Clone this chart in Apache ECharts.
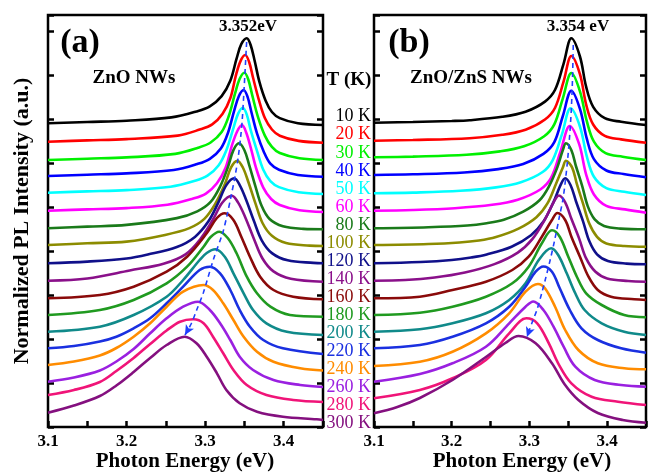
<!DOCTYPE html>
<html>
<head>
<meta charset="utf-8">
<script src="https://cdn.jsdelivr.net/npm/echarts@6/dist/echarts.min.js"></script>
<style>
html,body{margin:0;padding:0;background:#fff;}
#main{width:649px;height:473px;}
</style>
</head>
<body>
<div id="main"></div>
<script>
// ---------- data ----------
const temps = ['10 K','20 K','30 K','40 K','50 K','60 K','80 K','100 K','120 K','140 K','160 K','180 K','200 K','220 K','240 K','260 K','280 K','300 K'];

// Panel (a): ZnO NWs  -- [photon energy (eV), normalized intensity + offset (a.u.)]
const spectraA = [
 [[3.10,303.7],[3.15,305],[3.20,306.3],[3.257,309.6],[3.289,315.6],[3.306,320.7],[3.321,330.9],[3.332,346.2],[3.340,368.3],[3.346,382.8],[3.353,388.7],[3.358,381.8],[3.363,366.2],[3.369,345.4],[3.377,326.3],[3.385,315],[3.395,308.9],[3.418,303.7],[3.45,302]],
 [[3.10,285.3],[3.15,286.6],[3.20,287.9],[3.265,291.4],[3.293,297.4],[3.309,302.6],[3.322,313],[3.332,328.7],[3.339,351.2],[3.345,365.9],[3.351,372],[3.356,365],[3.361,349.2],[3.368,328.2],[3.376,308.9],[3.385,297.5],[3.395,291.3],[3.419,286.1],[3.45,284.3]],
 [[3.10,267],[3.15,268.3],[3.20,269.6],[3.262,273.1],[3.291,279.2],[3.307,284.5],[3.321,294.9],[3.330,310.7],[3.338,333.3],[3.344,348.2],[3.350,354.3],[3.355,347.3],[3.360,331.6],[3.367,310.7],[3.376,291.4],[3.385,280.1],[3.395,274],[3.420,268.7],[3.45,267]],
 [[3.10,251],[3.15,252.3],[3.20,253.6],[3.260,257],[3.290,263],[3.306,268.2],[3.320,278.5],[3.329,294],[3.337,316.4],[3.343,331],[3.349,337],[3.354,330.1],[3.359,314.5],[3.366,293.7],[3.375,274.6],[3.383,263.3],[3.394,257.2],[3.418,252],[3.45,250.3]],
 [[3.10,234.3],[3.15,235.6],[3.20,236.9],[3.256,240.3],[3.287,246.2],[3.303,251.3],[3.317,261.5],[3.327,276.8],[3.336,298.9],[3.342,313.4],[3.348,319.3],[3.353,312.4],[3.358,296.9],[3.366,276.2],[3.374,257.2],[3.383,245.9],[3.394,239.9],[3.419,234.7],[3.45,233]],
 [[3.10,216.3],[3.15,217.6],[3.20,218.9],[3.252,222.3],[3.284,228.3],[3.301,233.4],[3.315,243.7],[3.326,259.2],[3.334,281.4],[3.341,296],[3.347,302],[3.352,295],[3.358,279.4],[3.365,258.5],[3.374,239.4],[3.384,228],[3.395,222],[3.420,216.7],[3.45,215]],
 [[3.10,198.7],[3.15,200.4],[3.20,202.1],[3.264,208.9],[3.290,215.7],[3.307,225.1],[3.319,240.4],[3.329,259.9],[3.336,276.9],[3.343,283.7],[3.350,276.8],[3.356,262.2],[3.364,240.7],[3.372,220.9],[3.382,208],[3.399,200.7],[3.425,198.1],[3.45,197.7]],
 [[3.10,182],[3.15,183.7],[3.20,185.4],[3.249,192.1],[3.280,198.9],[3.299,208.1],[3.313,223.3],[3.325,242.7],[3.333,259.6],[3.341,266.3],[3.348,259.5],[3.355,245],[3.364,223.7],[3.373,204],[3.385,191.2],[3.403,184],[3.433,181.4],[3.45,181]],
 [[3.10,163.7],[3.15,165.4],[3.20,168.5],[3.227,172.5],[3.264,180],[3.287,190.1],[3.304,205.4],[3.317,224.9],[3.327,241.9],[3.337,248.7],[3.344,241.9],[3.352,227.5],[3.362,206.2],[3.372,186.7],[3.385,173.9],[3.405,166.7],[3.438,164.1],[3.45,163.7]],
 [[3.10,146.3],[3.15,148.5],[3.204,156.5],[3.247,163.3],[3.275,172.7],[3.294,188],[3.310,207.5],[3.322,224.5],[3.334,231.3],[3.342,224.4],[3.351,209.8],[3.362,188.3],[3.373,168.5],[3.387,155.6],[3.409,148.3],[3.45,145.3]],
 [[3.10,128.7],[3.166,132],[3.209,140.3],[3.251,155.3],[3.277,170.3],[3.302,193.7],[3.315,209],[3.325,213.7],[3.336,207],[3.346,190.3],[3.357,170.3],[3.370,150.3],[3.387,137],[3.412,130.3],[3.45,127.7]],
 [[3.10,112],[3.166,117],[3.209,127],[3.251,143.7],[3.277,160.3],[3.298,180.3],[3.307,190],[3.318,195.3],[3.329,188.7],[3.340,173.7],[3.353,150.3],[3.366,133.7],[3.383,120.3],[3.408,112],[3.45,110.3]],
 [[3.10,95.3],[3.166,100.3],[3.209,112],[3.251,130.3],[3.272,147],[3.293,167],[3.302,174],[3.313,177.7],[3.325,170.3],[3.336,153.7],[3.349,133.7],[3.361,117],[3.378,103.7],[3.404,95.3],[3.45,92]],
 [[3.10,78.7],[3.133,81],[3.166,85.5],[3.187,90.3],[3.209,98.7],[3.230,108.7],[3.251,123.7],[3.272,140.3],[3.293,157],[3.306,160.3],[3.319,153.7],[3.332,137],[3.344,117],[3.357,100.3],[3.374,87],[3.399,78.7],[3.45,73]],
 [[3.10,62],[3.133,65.5],[3.166,71.5],[3.187,79],[3.209,90.3],[3.230,103.7],[3.251,120.3],[3.272,135.3],[3.298,142],[3.310,137],[3.323,123.7],[3.336,107],[3.349,90.3],[3.366,75.3],[3.387,65.3],[3.421,58.7],[3.45,56.5]],
 [[3.10,45.3],[3.133,49.5],[3.166,56.5],[3.187,65.5],[3.209,78],[3.230,93.7],[3.251,108.7],[3.272,120.3],[3.291,125.3],[3.306,117],[3.319,103.7],[3.332,87],[3.344,70.3],[3.361,57],[3.387,47],[3.421,42],[3.45,40]],
 [[3.10,32],[3.133,37],[3.166,45],[3.187,56],[3.209,69],[3.230,83],[3.251,96.5],[3.268,105.3],[3.285,107.7],[3.298,103.7],[3.310,90.3],[3.323,73.7],[3.336,57],[3.353,42],[3.378,32],[3.412,27],[3.45,25]],
 [[3.10,14.3],[3.133,21.5],[3.166,31],[3.187,41.5],[3.209,55],[3.230,69],[3.251,82],[3.274,90.3],[3.289,83.7],[3.302,70.3],[3.315,53.7],[3.327,37],[3.344,23.7],[3.366,15.3],[3.399,10.3],[3.442,7.7],[3.45,7]]
];

// Panel (b): ZnO/ZnS NWs
const spectraB = [
 [[3.10,304.3],[3.15,305],[3.20,306],[3.223,306.8],[3.265,310.2],[3.295,315.3],[3.320,325.4],[3.333,337.2],[3.344,363.4],[3.354,388.7],[3.365,370.5],[3.373,340.1],[3.382,320.2],[3.397,308.8],[3.418,305.3],[3.45,302]],
 [[3.10,286.3],[3.15,287],[3.223,288.8],[3.265,292.2],[3.295,297.3],[3.320,307.5],[3.333,319.3],[3.344,345.6],[3.354,371],[3.365,352.8],[3.373,322.4],[3.382,302.5],[3.397,291.1],[3.418,287.6],[3.45,284.3]],
 [[3.10,269.7],[3.15,270.4],[3.219,272.2],[3.262,275.6],[3.293,280.7],[3.319,290.8],[3.332,302.6],[3.343,328.7],[3.354,354],[3.365,335.7],[3.374,305.3],[3.383,285.3],[3.398,273.8],[3.420,270.3],[3.45,267]],
 [[3.10,252],[3.15,252.7],[3.216,254.5],[3.260,257.9],[3.292,263],[3.318,273.1],[3.332,284.9],[3.343,311],[3.354,336.3],[3.365,318.1],[3.374,287.8],[3.383,267.9],[3.399,256.5],[3.421,253],[3.45,249.7]],
 [[3.10,233.7],[3.15,234.4],[3.211,236.2],[3.257,239.6],[3.289,244.8],[3.317,255],[3.330,266.9],[3.342,293.2],[3.353,318.7],[3.365,300.5],[3.374,270.1],[3.383,250.2],[3.399,238.8],[3.422,235.3],[3.45,232]],
 [[3.10,216.3],[3.15,217],[3.204,218.8],[3.252,222.2],[3.285,227.3],[3.314,237.5],[3.328,249.3],[3.340,275.6],[3.352,301],[3.364,282.8],[3.373,252.4],[3.383,232.5],[3.399,221.1],[3.423,217.6],[3.45,214.3]],
 [[3.10,198.7],[3.17,199.8],[3.22,201.5],[3.245,203.8],[3.267,207.2],[3.292,215.3],[3.313,226.7],[3.325,240.4],[3.336,259.9],[3.343,276.9],[3.347,283.7],[3.354,276.8],[3.360,260.5],[3.368,240.7],[3.375,220.9],[3.384,207.6],[3.396,201],[3.417,198.4],[3.45,197.7]],
 [[3.10,182],[3.17,183],[3.21,184.5],[3.235,186.5],[3.257,190],[3.286,198.4],[3.309,209.8],[3.323,223.3],[3.334,242.7],[3.343,259.6],[3.347,266.3],[3.355,259.4],[3.361,243.1],[3.369,223.3],[3.377,203.5],[3.387,190.2],[3.399,183.6],[3.422,181],[3.45,180.3]],
 [[3.10,163.7],[3.16,165],[3.20,167],[3.225,169.5],[3.245,172.5],[3.277,180.3],[3.302,191.8],[3.318,205.4],[3.331,224.9],[3.340,241.9],[3.346,248.7],[3.353,241.8],[3.360,225.5],[3.369,205.7],[3.377,185.9],[3.387,172.6],[3.401,166],[3.425,163.4],[3.45,162.7]],
 [[3.10,146.3],[3.14,147],[3.178,149.5],[3.217,154.5],[3.255,162.9],[3.285,174.4],[3.304,188.1],[3.320,207.6],[3.331,224.7],[3.338,231.5],[3.346,224.6],[3.354,208.2],[3.364,188.4],[3.373,168.6],[3.385,155.2],[3.400,148.6],[3.427,146],[3.45,145.3]],
 [[3.10,128.7],[3.159,130.3],[3.201,137],[3.244,145.3],[3.278,157],[3.299,170.3],[3.316,190.3],[3.329,207],[3.336,214],[3.346,207],[3.354,190.3],[3.365,170.3],[3.376,150.3],[3.388,137],[3.405,130.3],[3.435,127.7],[3.45,127]],
 [[3.10,112],[3.159,114.3],[3.201,120.3],[3.244,130.3],[3.278,143.7],[3.299,160.3],[3.316,183.7],[3.329,196.7],[3.339,190.3],[3.350,170.3],[3.361,150.3],[3.373,133.7],[3.393,122],[3.422,112],[3.45,109.7]],
 [[3.10,95.3],[3.159,97.7],[3.201,103.7],[3.244,113.7],[3.274,127],[3.295,143.7],[3.312,167],[3.328,178.7],[3.337,172],[3.348,153.7],[3.359,133.7],[3.371,117],[3.393,103.7],[3.422,95.3],[3.45,92]],
 [[3.10,78.7],[3.159,82],[3.201,90.3],[3.244,103.7],[3.274,120.3],[3.295,140.3],[3.308,155.3],[3.318,160.5],[3.329,155.3],[3.339,138.7],[3.352,117],[3.367,98.7],[3.388,87],[3.418,78.7],[3.45,74.3]],
 [[3.10,61],[3.159,65.3],[3.201,75.3],[3.244,93.7],[3.274,113.7],[3.295,135.3],[3.311,143],[3.320,138.7],[3.333,120.3],[3.346,97],[3.363,77],[3.388,63.7],[3.422,58.7],[3.45,57.7]],
 [[3.10,45.3],[3.159,53],[3.201,63.7],[3.244,80.3],[3.274,103.7],[3.295,120.3],[3.305,125.5],[3.318,117],[3.331,100.3],[3.344,80.3],[3.359,60.3],[3.384,47],[3.418,42],[3.45,40.3]],
 [[3.10,28.7],[3.159,37],[3.201,48.7],[3.244,67],[3.274,93.7],[3.296,108.7],[3.310,103.7],[3.325,83.7],[3.337,63.7],[3.354,43.7],[3.380,30.3],[3.414,25.3],[3.45,22]],
 [[3.10,13.7],[3.13,20],[3.159,29],[3.201,47],[3.244,70],[3.269,84],[3.286,91],[3.308,83.7],[3.329,63.7],[3.345,43],[3.363,27],[3.388,14],[3.420,7],[3.45,4.3]]
];

// peak-shift guide lines (blue dashed arrows)
const guideA = [[3.3528,385],[3.3497,340],[3.3472,307],[3.3452,290],[3.3421,270],[3.3379,250],[3.3328,230],[3.3274,210],[3.3223,194],[3.3103,167],[3.2976,134],[3.2892,117],[3.2828,104],[3.2743,92]];
const guideB = [[3.3564,382],[3.3551,340],[3.3529,304],[3.3491,267],[3.3436,230],[3.3385,210],[3.3325,187],[3.3267,167],[3.3203,147],[3.3159,134],[3.3096,117],[3.3032,104],[3.2968,90]];

const peakLabelA = '3.352eV';
const peakLabelB = '3.354 eV';

// ---------- styles ----------
const colors = ['#000000','#ff0000','#00f000','#0000ff','#00ffff','#ff00ff','#1a7a1a','#8c8c00','#10108a','#8a108a','#8a0a0a','#209a20','#108a8a','#1a30e0','#ff8c00','#9a20e0','#f01478','#84107f'];
const SERIF = '"Liberation Serif", "Times New Roman", serif';

const chart = echarts.init(document.getElementById('main'), null, {renderer: 'canvas'});

function xAx(gi) {
  return {
    gridIndex: gi, type: 'value', min: 3.1, max: 3.45, interval: 0.05,
    axisLine: {show: false},
    axisTick: {show: true, inside: true, length: 6, lineStyle: {color: '#000', width: 2.5}},
    axisLabel: {
      show: true, margin: 6, color: '#000', fontFamily: SERIF, fontWeight: 'bold', fontSize: 17,
      formatter: v => { const t = v * 10; return Math.abs(t - Math.round(t)) < 1e-6 && v < 3.44 ? v.toFixed(1) : ''; }
    },
    splitLine: {show: false}
  };
}
function yAx(gi, pos) {
  return {
    gridIndex: gi, type: 'value', position: pos, min: 0, max: 412, interval: 44,
    axisLine: {show: false},
    axisTick: {show: true, inside: true, length: 6, lineStyle: {color: '#000', width: 2.5}},
    axisLabel: {show: false}, splitLine: {show: false}
  };
}

const series = [];
spectraA.forEach((d, i) => series.push({
  name: temps[i], type: 'line', xAxisIndex: 0, yAxisIndex: 0, data: d,
  showSymbol: false, symbol: 'none', smooth: 0.35, z: 2,
  lineStyle: {color: colors[i], width: 2.6}, itemStyle: {color: colors[i]}
}));
spectraB.forEach((d, i) => series.push({
  name: temps[i], type: 'line', xAxisIndex: 1, yAxisIndex: 2, data: d,
  showSymbol: false, symbol: 'none', smooth: 0.35, z: 2,
  lineStyle: {color: colors[i], width: 2.6}, itemStyle: {color: colors[i]}
}));
function guideSeries(g, xi, yi, rot) {
  return {
    type: 'line', xAxisIndex: xi, yAxisIndex: yi, smooth: 0.3, z: 5, silent: true,
    symbol: 'none', showSymbol: true,
    data: g.map((p, i) => i === g.length - 1
      ? {value: p, symbol: 'arrow', symbolSize: [7, 10], symbolRotate: rot, itemStyle: {color: '#1f3fff'}}
      : {value: p}),
    lineStyle: {color: '#1f3fff', width: 1.6, type: [5, 4]}
  };
}
series.push(guideSeries(guideA, 0, 0, 150));
series.push(guideSeries(guideB, 1, 2, 160));

const option = {
  animation: false,
  backgroundColor: '#ffffff',
  grid: [
    {left: 48, right: 326, top: 15, bottom: 46, show: true, borderColor: '#000', borderWidth: 2.5, backgroundColor: 'transparent'},
    {left: 374, right: 1.5, top: 15, bottom: 46, show: true, borderColor: '#000', borderWidth: 2.5, backgroundColor: 'transparent'},
    {left: 373, right: 275, top: 107.7, bottom: 40.7}
  ],
  xAxis: [xAx(0), xAx(1), {gridIndex: 2, type: 'value', show: false}],
  yAxis: [
    yAx(0, 'left'), yAx(0, 'right'), yAx(1, 'left'), yAx(1, 'right'),
    {
      gridIndex: 2, type: 'category', data: temps, inverse: true,
      axisLine: {show: false}, axisTick: {show: false}, splitLine: {show: false},
      axisLabel: {interval: 0, margin: 2, fontFamily: SERIF, fontSize: 18, color: (v, i) => colors[temps.indexOf(v)]}
    }
  ],
  series: series,
  graphic: [
    {type: 'text', x: 80, y: 43, style: {text: '(a)', fontFamily: SERIF, fontWeight: 'bold', fontSize: 34, fill: '#000', align: 'center', verticalAlign: 'middle'}},
    {type: 'text', x: 134, y: 78, style: {text: 'ZnO NWs', fontFamily: SERIF, fontWeight: 'bold', fontSize: 19, fill: '#000', align: 'center', verticalAlign: 'middle'}},
    {type: 'text', x: 248, y: 27, style: {text: peakLabelA, fontFamily: SERIF, fontWeight: 'bold', fontSize: 17, fill: '#000', align: 'center', verticalAlign: 'middle'}},
    {type: 'text', x: 409, y: 43, style: {text: '(b)', fontFamily: SERIF, fontWeight: 'bold', fontSize: 34, fill: '#000', align: 'center', verticalAlign: 'middle'}},
    {type: 'text', x: 471, y: 78, style: {text: 'ZnO/ZnS NWs', fontFamily: SERIF, fontWeight: 'bold', fontSize: 19, fill: '#000', align: 'center', verticalAlign: 'middle'}},
    {type: 'text', x: 578, y: 27, style: {text: peakLabelB, fontFamily: SERIF, fontWeight: 'bold', fontSize: 17, fill: '#000', align: 'center', verticalAlign: 'middle'}},
    {type: 'text', x: 349, y: 80, style: {text: 'T (K)', fontFamily: SERIF, fontWeight: 'bold', fontSize: 19, fill: '#000', align: 'center', verticalAlign: 'middle'}},
    {type: 'text', x: 185, y: 462, style: {text: 'Photon Energy (eV)', fontFamily: SERIF, fontWeight: 'bold', fontSize: 21, fill: '#000', align: 'center', verticalAlign: 'middle'}},
    {type: 'text', x: 522, y: 462, style: {text: 'Photon Energy (eV)', fontFamily: SERIF, fontWeight: 'bold', fontSize: 21, fill: '#000', align: 'center', verticalAlign: 'middle'}},
    {type: 'text', x: 22, y: 221, rotation: Math.PI / 2, style: {text: 'Normalized PL Intensity (a.u.)', fontFamily: SERIF, fontWeight: 'bold', fontSize: 22, fill: '#000', align: 'center', verticalAlign: 'middle'}}
  ]
};
chart.setOption(option);
</script>
</body>
</html>
